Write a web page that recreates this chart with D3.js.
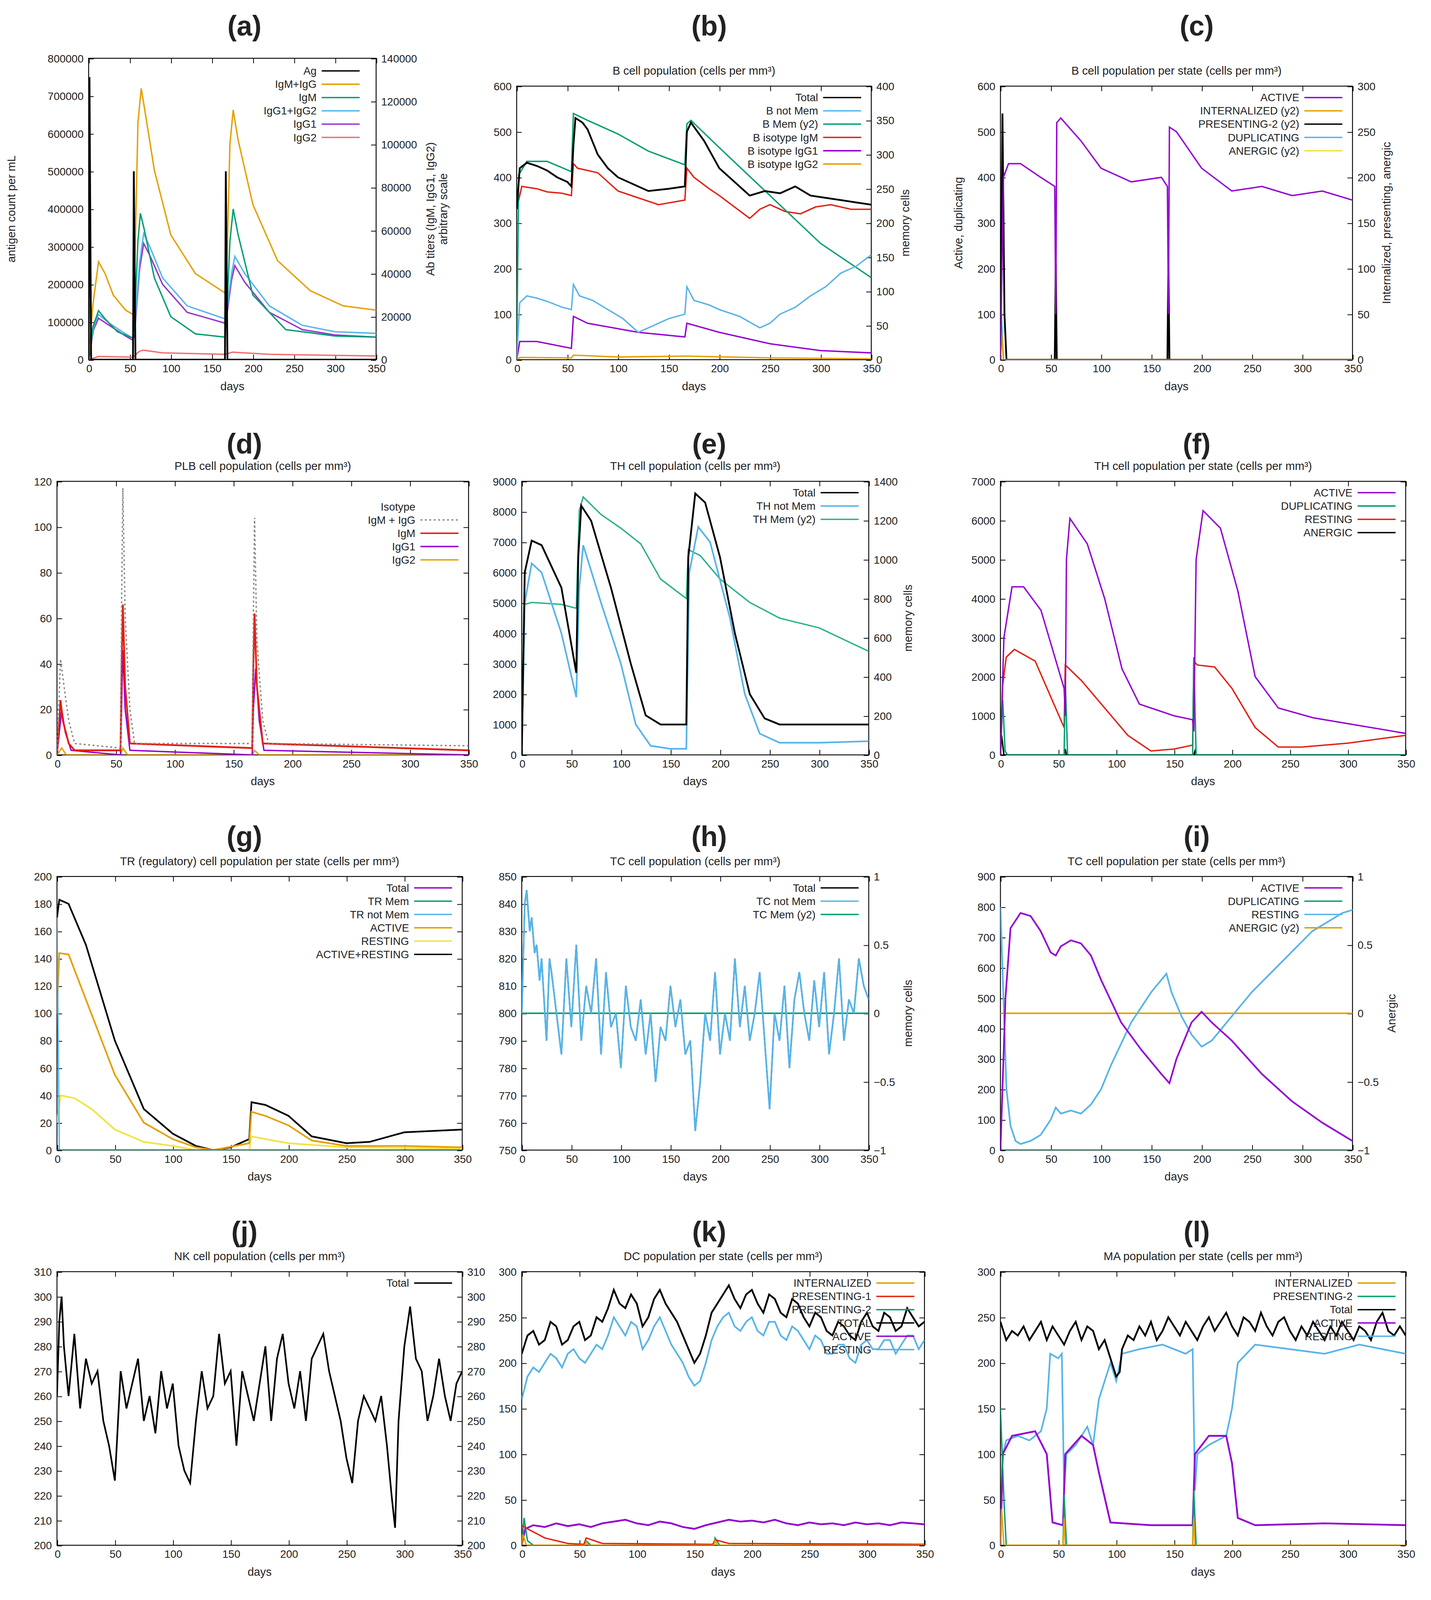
<!DOCTYPE html>
<html><head><meta charset="utf-8">
<script src="https://cdn.jsdelivr.net/npm/d3@7"></script>
<style>body{margin:0;background:#fff}text{font-family:"Liberation Sans",Arial,sans-serif;fill:#222}</style>
</head><body><svg id="c" width="3664" height="5111"></svg>
<script>
const C={pu:"#9400d3",gr:"#009e73",cy:"#56b4e9",or:"#e69f00",ye:"#f0e442",bl:"#0072b2",re:"#e51e10",bk:"#000",gy:"#888",te:"#2ab08a"};
const xTicks=[0,50,100,150,200,250,300,350];
const S=(o)=>Object.entries(o).map(([k,v])=>[+k,v]);
// ---- data ----
const aAg=[[0,0],[1,750000],[3,0],[54,0],[55,500000],[57,0],[166,0],[167,500000],[169,0],[350,0]];
const aIgMG=[[0,0],[5,25000],[12,45500],[20,40000],[30,30000],[45,23000],[54,21000],[56,40000],[60,110000],[64,126000],[70,112000],[80,88000],[100,58000],[130,40000],[166,31000],[168,40000],[172,100000],[176,116000],[182,102000],[200,72000],[230,46000],[270,32000],[310,25000],[350,23000]];
const aIgM=[[0,0],[5,15000],[12,22750],[20,19000],[35,13000],[54,10000],[56,20000],[60,55000],[63,68000],[68,60000],[80,38000],[100,20000],[130,12000],[166,10500],[168,20000],[172,55000],[176,70000],[182,58000],[200,30000],[240,14000],[300,11000],[350,10500]];
const aIgG12=[[0,0],[6,15000],[12,21000],[25,17000],[45,12000],[54,10000],[56,15000],[62,45000],[67,58600],[75,52000],[90,38000],[120,25000],[166,19000],[168,22000],[174,40000],[178,48000],[190,40000],[220,25000],[260,16000],[300,13000],[350,12250]];
const aIgG1=[[0,0],[6,14000],[12,19250],[25,16000],[45,11000],[54,9000],[56,13000],[62,42000],[67,54000],[75,48000],[90,35000],[120,22000],[166,17000],[168,20000],[174,37000],[178,43750],[190,36000],[220,22000],[260,14000],[300,11500],[350,10500]];
const aIgG2=[[0,0],[12,1500],[54,1200],[62,4000],[67,4400],[90,3200],[166,2500],[175,3500],[220,2500],[350,1750]];
const bTot=[[0,330],[3,420],[10,432],[20,425],[30,415],[40,400],[50,390],[54,380],[56,470],[58,530],[65,520],[70,505],[80,450],[90,420],[100,400],[115,385],[130,370],[150,375],[166,380],[168,500],[172,520],[185,480],[200,420],[215,390],[230,360],[245,370],[260,365],[275,380],[290,360],[305,355],[320,350],[335,345],[350,340]];
const bNot=[[0,0],[3,125],[10,140],[20,135],[30,128],[45,115],[54,110],[56,165],[62,140],[75,130],[90,110],[105,90],[120,60],[135,75],[150,90],[166,100],[168,160],[175,130],[190,120],[200,110],[220,95],[240,70],[250,80],[260,100],[275,115],[290,140],[305,160],[320,190],[335,205],[350,230]];
const bMem=[[0,0],[2,270],[10,290],[30,290],[54,275],[56,360],[70,350],[100,330],[130,305],[166,285],[168,345],[172,350],[200,310],[250,240],[300,170],[350,120]];
const bIgM=[[0,330],[5,380],[20,375],[30,368],[45,365],[54,360],[56,430],[60,420],[80,410],[100,370],[120,355],[140,340],[166,350],[168,420],[175,400],[190,375],[200,360],[215,335],[230,310],[240,330],[250,340],[265,325],[280,320],[295,335],[310,340],[330,330],[350,330]];
const bIgG1=[[0,0],[3,40],[20,40],[54,25],[56,95],[70,80],[120,60],[166,50],[168,80],[200,60],[250,35],[300,20],[350,15]];
const bIgG2=[[0,0],[3,5],[54,4],[56,10],[100,6],[168,8],[250,4],[350,2]];
const cAct=[[0,0],[3,400],[8,430],[20,430],[40,400],[54,380],[55,100],[56,520],[60,530],[80,480],[100,420],[130,390],[160,400],[166,380],[167,100],[168,510],[175,500],[200,420],[230,370],[260,380],[290,360],[320,370],[350,350]];
const cPres=[[0,0],[2,270],[4,50],[6,0],[54,0],[55,105],[56,0],[166,0],[167,110],[168,0],[350,0]];
const cDup=[[0,0],[1,100],[3,0],[54,0],[55,80],[56,0],[166,0],[167,80],[168,0],[350,0]];
const cInt=[[0,0],[1,30],[3,0],[350,0]];
const cAne=[[0,0],[54,0],[55,25],[56,0],[166,0],[167,20],[168,0],[350,0]];
const dIgMG=[[0,0],[3,42],[6,30],[10,15],[15,5],[54,3],[55,70],[56,117],[58,60],[62,20],[66,5],[166,5],[167,60],[168,104],[170,50],[175,15],[180,5],[350,4]];
const dIgM=[[0,0],[3,24],[5,15],[10,5],[15,2],[54,2],[55,40],[56,66],[58,30],[62,5],[166,3],[167,40],[168,62],[170,30],[175,5],[350,2]];
const dIgG1=[[0,0],[4,20],[7,10],[12,2],[54,0],[56,46],[58,20],[62,2],[166,0],[167,20],[169,38],[172,15],[176,2],[350,0]];
const dIgG2=[[0,0],[4,3],[8,0],[54,0],[56,3],[60,0],[166,0],[168,2],[172,0],[350,0]];
const eTot=[[0,0],[3,6000],[10,7050],[20,6900],[40,5500],[55,2700],[57,6500],[60,8200],[70,7700],[90,5500],[110,3000],[125,1300],[140,1000],[166,1000],[168,6500],[175,8600],[185,8300],[200,6500],[215,4000],[230,2000],[245,1200],[260,1000],[300,1000],[350,1000]];
const eNot=[[0,0],[3,5000],[10,6300],[20,6000],[40,4000],[55,1900],[58,5500],[62,6900],[80,5000],[100,3000],[115,1000],[130,300],[150,200],[166,200],[169,6000],[178,7500],[190,7000],[210,4500],[225,2000],[240,700],[260,400],[300,400],[350,450]];
const eMem=[[0,0],[3,770],[10,780],[40,770],[55,750],[58,1250],[62,1320],[80,1230],[100,1160],[120,1080],[140,900],[166,800],[168,1050],[180,1020],[200,900],[230,780],[260,700],[300,650],[350,530]];
const fAct=[[0,0],[3,3000],[10,4300],[20,4300],[35,3700],[55,1700],[56,1000],[57,5000],[60,6050],[75,5400],[90,4000],[105,2200],[120,1300],[150,1000],[166,900],[167,600],[169,5000],[175,6250],[190,5800],[205,4200],[220,2000],[240,1200],[270,950],[300,800],[350,550]];
const fRes=[[0,0],[2,1800],[5,2500],[12,2700],[30,2400],[55,700],[56,2300],[70,1900],[90,1200],[110,500],[130,100],[150,150],[166,250],[167,2400],[170,2300],[185,2250],[200,1700],[220,700],[240,200],[260,200],[300,300],[350,500]];
const fDup=[[0,0],[2,1400],[4,100],[6,0],[55,0],[56,1900],[58,0],[166,0],[167,2500],[169,0],[350,0]];
const fAne=[[0,0],[1,500],[3,0],[55,0],[56,150],[57,0],[167,0],[168,100],[169,0],[350,0]];
const gAR=[[0,170],[2,183],[10,180],[25,150],[50,80],[75,30],[100,12],[120,3],[135,0],[150,2],[166,8],[168,35],[180,33],[200,25],[220,10],[250,5],[270,6],[300,13],[350,15]];
const gAct=[[0,100],[2,144],[10,143],[25,110],[50,55],[75,20],[100,8],[120,2],[135,0],[166,5],[168,28],[180,25],[200,18],[220,7],[250,3],[300,3],[350,2]];
const gRes=[[0,20],[3,40],[15,38],[30,30],[50,15],[75,6],[100,3],[120,0],[166,0],[168,10],[180,8],[200,5],[250,2],[350,1]];
const gNot=[[0,170],[2,0],[350,0]];
const hNot=S({0:800,3:840,5:845,8:830,10:835,13:822,15:825,18:812,20:820,25:790,28:820,30:815,35:800,40:785,45:820,50:795,55:825,60:790,65:810,70:800,75:820,80:785,85:815,90:795,95:800,100:780,105:810,110:795,115:790,120:805,125:785,130:800,135:775,140:795,145:790,150:810,155:795,160:805,165:785,170:790,175:757,180:775,185:800,190:790,195:815,200:785,205:800,210:790,215:820,220:795,225:810,230:790,235:800,240:815,245:790,250:765,255:800,260:790,265:810,270:780,275:805,280:815,285:800,290:790,295:812,300:795,305:815,310:785,315:800,320:820,325:790,330:805,335:800,340:820,345:810,350:805});
const hMem=[[0,0],[350,0]];
const iAct=[[0,0],[5,500],[10,730],[20,780],[30,770],[40,720],[50,650],[55,640],[60,670],[70,690],[80,680],[90,640],[100,560],[120,420],[140,330],[160,250],[168,220],[175,300],[190,420],[200,455],[210,420],[230,360],[260,250],[290,160],[320,90],[350,30]];
const iRes=[[0,800],[3,500],[6,200],[10,80],[15,30],[20,20],[30,30],[40,50],[50,100],[55,140],[60,120],[70,130],[80,120],[90,150],[100,200],[110,280],[130,420],[150,520],[165,580],[170,520],[180,440],[190,380],[200,340],[210,360],[220,400],[250,520],[280,620],[310,720],[340,780],[350,790]];
const iAne=[[0,0],[350,0]];
const jTot=S({0:260,2:290,4:300,6:280,10:260,15:285,20:255,25:275,30:265,35:270,40:250,45:240,50:226,55:270,60:255,65:265,70:275,75:250,80:260,85:245,90:270,95:255,100:265,105:240,110:230,115:225,120:250,125:270,130:255,135:260,140:285,145:265,150:270,155:240,160:270,165:260,170:250,175:265,180:280,185:250,190:275,195:285,200:265,205:255,210:270,215:250,220:275,225:280,230:285,235:270,240:260,245:250,250:235,255:225,260:250,265:260,270:255,275:250,280:260,285:240,289:220,292:207,295:250,300:280,305:296,310:275,315:270,320:250,325:260,330:275,335:260,340:250,345:265,350:270});
const kTot=S({0:210,5:230,10:235,15:220,20:225,25:245,30:240,35:220,40:225,45:240,50:245,55:225,60:230,65:250,70:245,75:260,80:280,85:265,90:260,95:275,100:265,105:240,110:250,115:270,120:280,125:265,130:255,135:245,140:230,145:215,150:200,155:210,160:230,165:255,170:265,175:275,180:285,185:270,190:260,195:275,200:280,205:265,210:255,215:275,220:270,225:255,230:250,235:270,240:265,245:250,250:240,255:255,260:250,265:235,270:230,275:245,280:240,285:230,290:225,295:245,300:255,305:240,310:235,315:255,320:250,325:235,330:240,335:260,340:250,345:240,350:245});
const kRes=S({0:160,5:185,10:195,15:190,20:200,25:210,30:205,35:195,40:210,45:215,50:205,55:200,60:210,65:220,70:215,75:230,80:250,85:240,90:230,95:245,100:240,105:215,110:225,115:240,120:250,125:235,130:220,135:210,140:200,145:185,150:175,155:180,160:200,165:225,170:240,175:250,180:255,185:240,190:235,195:245,200:250,205:235,210:230,215:245,220:245,225:230,230:225,235:240,240:235,245:225,250:215,255:230,260:225,265:210,270:210,275:220,280:220,285:205,290:200,295:220,300:225,305:215,310:215,315:225,320:225,325:210,330:220,335:230,340:230,345:215,350:225});
const kAct=S({0:0,3:18,10:22,20:20,30:24,40:21,50:23,60:20,70:24,80:26,90:28,100:24,110:22,120:26,130:24,140:20,150:18,160:22,170:25,180:28,190:26,200:27,210:25,220:28,230:24,240:22,250:25,260:23,270:24,280:22,290:25,300:23,310:24,320:22,330:25,340:24,350:23});
const kP1=[[0,22],[5,18],[20,8],[40,2],[54,1],[56,8],[70,2],[166,1],[168,6],[180,2],[350,1]];
const kP2=[[0,0],[2,30],[5,5],[10,0],[55,0],[56,5],[60,0],[167,0],[168,8],[172,0],[350,0]];
const kInt=[[0,0],[1,12],[4,0],[55,0],[56,4],[58,0],[167,0],[168,5],[170,0],[350,0]];
const lTot=S({0:245,5:225,10:235,15:230,20:240,25:225,30:235,35:245,40:225,45:240,50:230,55:220,60:235,65:245,70:225,75:240,80:235,85:215,90:225,95:205,100:185,103:190,105:215,110:230,115:225,120:240,125:230,130:245,135:225,140:235,145:250,150:240,155:230,160:245,165:235,170:225,175:240,180:250,185:235,190:245,195:255,200:240,205:230,210:250,215:245,220:235,225:255,230:240,235:230,240:245,245:250,250:235,255:225,260:240,265:230,270:245,275:235,280:225,285:240,290:230,295:245,300:235,305:225,310:240,315:235,320:225,325:245,330:255,335:235,340:230,345:240,350:230});
const lRes=[[0,0],[2,100],[5,115],[15,120],[25,115],[35,125],[40,150],[43,210],[50,205],[53,210],[55,60],[57,100],[65,110],[75,130],[80,110],[85,160],[95,200],[100,180],[105,210],[120,215],[140,220],[160,210],[166,215],[168,60],[170,100],[180,110],[195,120],[200,150],[205,200],[220,220],[250,215],[280,210],[310,220],[350,210]];
const lAct=[[0,0],[2,100],[10,120],[30,125],[40,100],[45,25],[54,22],[56,100],[70,120],[80,110],[85,80],[95,25],[130,22],[166,22],[168,100],[180,120],[195,120],[200,90],[205,30],[220,22],[280,24],[350,22]];
const lP2=[[0,150],[3,50],[5,0],[54,0],[55,55],[57,0],[166,0],[167,60],[169,0],[350,0]];
const lInt=[[0,0],[1,40],[3,0],[54,0],[55,30],[56,0],[166,0],[167,30],[168,0],[350,0]];
const mAct=S({0:460,5:450,10:470,15:455,20:465,25:460,30:470,35:465,40:475,45:460,50:470,55:475,60:465,65:480,70:475,75:470,80:480,85:485,90:470,95:465,100:490,105:475,110:465,115:470,120:460,125:475,130:465,135:455,140:470,145:460,150:445,155:440,160:430,165:445,170:455,175:460,180:470,185:490,190:500,195:490,200:480,205:475,210:470,215:460,220:470,225:465,230:455,235:470,240:460,245:465,250:470,255:455,260:465,265:475,270:460,275:470,280:465,285:475,290:480,295:460,300:470,305:465,310:475,315:460,320:470,325:465,330:455,335:470,340:460,345:475,350:470});
const mZero=[[0,0],[350,0]];
const nIFNg=[[0,0],[3,300000],[6,343000],[10,330000],[15,250000],[20,120000],[25,40000],[30,8000],[40,0],[55,0],[58,100000],[62,250000],[66,313000],[70,300000],[75,200000],[80,80000],[85,20000],[95,0],[166,0],[170,60000],[175,95000],[180,90000],[185,60000],[195,15000],[210,0],[350,0]];
const nTGF=[[0,0],[3,310000],[5,320000],[8,200000],[12,80000],[18,10000],[25,0],[55,0],[57,60000],[59,70000],[63,20000],[70,0],[167,0],[169,15000],[175,0],[350,0]];
const nTNF=[[0,0],[3,80000],[6,60000],[12,10000],[20,0],[55,0],[57,40000],[62,5000],[68,0],[167,0],[169,20000],[175,0],[350,0]];
const nIL12=[[0,0],[4,45000],[10,10000],[18,0],[55,0],[58,30000],[64,5000],[70,0],[167,0],[170,32000],[176,10000],[182,0],[350,0]];
const nIL10=[[0,0],[4,20000],[10,3000],[18,0],[56,0],[58,10000],[64,0],[168,0],[171,12000],[178,0],[350,0]];
const nIL2=[[0,0],[3,560000],[7,100000],[12,0],[55,0],[57,560000],[61,100000],[66,0],[166,0],[168,520000],[172,100000],[177,0],[350,0]];
const nD=[[0,0],[20,0],[28,200000],[33,470000],[40,480000],[45,460000],[48,100000],[52,0],[350,0]];
const z=[[0,0],[350,0]];
// ---- drawing ----
const svg=d3.select("#c");
const root=svg.append("g").attr("transform","scale(3.2425)");
let cid=0;
function panel(p){
  const g=root.append("g");
  const x=d3.scaleLinear().domain(p.xd||[0,350]).range([p.x0,p.x1]);
  const y=d3.scaleLinear().domain(p.yd).range([p.y1,p.y0]);
  const y2=p.y2d?d3.scaleLinear().domain(p.y2d).range([p.y1,p.y0]):null;
  const fs=p.fs||8.5;
  g.append("rect").attr("x",p.x0).attr("y",p.y0).attr("width",p.x1-p.x0).attr("height",p.y1-p.y0).attr("fill","none").attr("stroke","#000").attr("stroke-width",0.7);
  const ax=(sel)=>{sel.select(".domain").remove();sel.selectAll("text").style("font-size",fs+"px").style("font-family","Liberation Sans, Arial");sel.selectAll("line").attr("stroke-width",0.6);};
  g.append("g").attr("transform",`translate(0,${p.y1})`).call(d3.axisBottom(x).tickValues(p.xt||xTicks).tickSize(-4).tickPadding(4).tickFormat(d3.format("d"))).call(ax);
  g.append("g").attr("transform",`translate(0,${p.y0})`).call(d3.axisTop(x).tickValues(p.xt||xTicks).tickSize(-4).tickFormat("")).call(ax);
  g.append("g").attr("transform",`translate(${p.x0},0)`).call(d3.axisLeft(y).tickValues(p.yt).tickSize(-4).tickPadding(4).tickFormat(d3.format("d"))).call(ax);
  if(y2) g.append("g").attr("transform",`translate(${p.x1},0)`).call(d3.axisRight(y2).tickValues(p.y2t).tickSize(-4).tickPadding(4).tickFormat(p.y2f||d3.format("d"))).call(ax);
  else g.append("g").attr("transform",`translate(${p.x1},0)`).call(d3.axisRight(y).tickValues(p.yt).tickSize(-4).tickFormat("")).call(ax);
  if(!p.noDays) g.append("text").attr("x",(p.x0+p.x1)/2).attr("y",p.y1+24).attr("text-anchor","middle").style("font-size","9px").text("days");
  if(p.title) g.append("text").attr("x",(p.x0+p.x1)/2).attr("y",p.y0-9).attr("text-anchor","middle").style("font-size","9px").text(p.title);
  if(p.yl) g.append("text").attr("transform",`translate(${p.x0-(p.ylo||30)},${(p.y0+p.y1)/2}) rotate(-90)`).attr("text-anchor","middle").style("font-size","9px").text(p.yl);
  if(p.y2l) p.y2l.forEach((t,i)=>g.append("text").attr("transform",`translate(${p.x1+(p.y2lo||38)+i*10},${(p.y0+p.y1)/2}) rotate(-90)`).attr("text-anchor","middle").style("font-size","9px").text(t));
  const id="cl"+(cid++);
  g.append("clipPath").attr("id",id).append("rect").attr("x",p.x0).attr("y",p.y0).attr("width",p.x1-p.x0).attr("height",p.y1-p.y0);
  const pg=g.append("g").attr("clip-path",`url(#${id})`);
  const order=p.s.slice().reverse().sort((a,b)=>(b.under?1:0)-(a.under?1:0));
  order.forEach(s=>{
    if(!s.d) return;
    const ys=s.y2?y2:y;
    pg.append("path").datum(s.d).attr("d",d3.line().x(d=>x(d[0])).y(d=>ys(d[1]))).attr("fill","none").attr("stroke",s.c).attr("stroke-width",s.w||1.1).attr("stroke-dasharray",s.dash||null);
  });
  const lx=p.lx||p.x1-42, ly=p.ly||p.y0+9;
  p.s.forEach((s,i)=>{
    const yy=ly+i*10.5;
    g.append("text").attr("x",lx).attr("y",yy+3).attr("text-anchor","end").style("font-size","8.5px").text(s.n);
    if(s.c) g.append("line").attr("x1",lx+4).attr("x2",lx+34).attr("y1",yy).attr("y2",yy).attr("stroke",s.c).attr("stroke-width",1.1).attr("stroke-dasharray",s.dash||null);
  });
}
function letter(t,x,yy){root.append("text").attr("x",x).attr("y",yy).attr("text-anchor","middle").style("font-size","22px").style("font-weight","bold").text(t);}
const r1=[68,284],r2=[380,596],r3=[692,908],r4=[1004,1220],r5=[1311,1528];
const mm=" (cells per mm³)";
const gfmt=d3.format("~g");
panel({x0:70,x1:297,y0:46,y1:284,yd:[0,800000],yt:d3.range(0,800001,100000),y2d:[0,140000],y2t:d3.range(0,140001,20000),yl:"antigen count per mL",ylo:58,y2l:["Ab titers (IgM, IgG1, IgG2)","arbitrary scale"],y2lo:46,lx:250,ly:56,
 s:[{n:"Ag",c:C.bk,d:aAg,w:1.4},{n:"IgM+IgG",c:C.or,d:aIgMG,y2:1},{n:"IgM",c:C.gr,d:aIgM,y2:1},{n:"IgG1+IgG2",c:C.cy,d:aIgG12,y2:1},{n:"IgG1",c:"#9933cc",d:aIgG1,y2:1},{n:"IgG2",c:"#f07070",d:aIgG2,y2:1}]});
panel({x0:408,x1:688,y0:r1[0],y1:r1[1],yd:[0,600],yt:d3.range(0,601,100),y2d:[0,400],y2t:d3.range(0,401,50),title:"B cell population"+mm,y2l:["memory cells"],y2lo:30,
 s:[{n:"Total",c:C.bk,d:bTot,w:1.4},{n:"B not Mem",c:C.cy,d:bNot},{n:"B Mem (y2)",c:C.gr,d:bMem,y2:1},{n:"B isotype IgM",c:C.re,d:bIgM},{n:"B isotype IgG1",c:C.pu,d:bIgG1},{n:"B isotype IgG2",c:C.or,d:bIgG2}]});
panel({x0:790,x1:1068,y0:r1[0],y1:r1[1],yd:[0,600],yt:d3.range(0,601,100),y2d:[0,300],y2t:d3.range(0,301,50),title:"B cell population  per state"+mm,yl:"Active, duplicating",y2l:["Internalized, presenting, anergic"],y2lo:30,
 s:[{n:"ACTIVE",c:C.pu,d:cAct},{n:"INTERNALIZED (y2)",c:C.or,d:cInt,y2:1},{n:"PRESENTING-2 (y2)",c:C.bk,d:cPres,y2:1,w:1.4},{n:"DUPLICATING",c:C.cy,d:cDup},{n:"ANERGIC (y2)",c:C.ye,d:cAne,y2:1}]});
panel({x0:45,x1:370,y0:r2[0],y1:r2[1],yd:[0,120],yt:d3.range(0,121,20),title:"PLB cell population"+mm,ly:r2[0]+20,
 s:[{n:"Isotype",c:null,d:null},{n:"IgM + IgG",c:C.gy,d:dIgMG,dash:"1.5,2"},{n:"IgM",c:C.re,d:dIgM,w:1.4},{n:"IgG1",c:C.pu,d:dIgG1},{n:"IgG2",c:C.or,d:dIgG2}]});
panel({x0:412,x1:686,y0:r2[0],y1:r2[1],yd:[0,9000],yt:d3.range(0,9001,1000),y2d:[0,1400],y2t:d3.range(0,1401,200),title:"TH cell population"+mm,y2l:["memory cells"],y2lo:34,
 s:[{n:"Total",c:C.bk,d:eTot,w:1.4},{n:"TH not Mem",c:C.cy,d:eNot,w:1.3},{n:"TH Mem (y2)",c:C.te,d:eMem,y2:1}]});
panel({x0:790,x1:1110,y0:r2[0],y1:r2[1],yd:[0,7000],yt:d3.range(0,7001,1000),title:"TH cell population per state"+mm,
 s:[{n:"ACTIVE",c:C.pu,d:fAct},{n:"DUPLICATING",c:C.gr,d:fDup},{n:"RESTING",c:C.re,d:fRes},{n:"ANERGIC",c:C.bk,d:fAne}]});
panel({x0:45,x1:365,y0:r3[0],y1:r3[1],yd:[0,200],yt:d3.range(0,201,20),title:"TR (regulatory) cell population per state"+mm,
 s:[{n:"Total",c:C.pu,d:gAR,under:1},{n:"TR Mem",c:C.gr,d:z},{n:"TR not Mem",c:C.cy,d:gNot},{n:"ACTIVE",c:C.or,d:gAct,w:1.3},{n:"RESTING",c:C.ye,d:gRes,w:1.3},{n:"ACTIVE+RESTING",c:C.bk,d:gAR,w:1.3}]});
panel({x0:412,x1:686,y0:r3[0],y1:r3[1],yd:[750,850],yt:d3.range(750,851,10),y2d:[-1,1],y2t:[-1,-0.5,0,0.5,1],y2f:gfmt,title:"TC cell population"+mm,y2l:["memory cells"],y2lo:34,
 s:[{n:"Total",c:C.bk,d:hNot,under:1},{n:"TC not Mem",c:C.cy,d:hNot,w:1.3},{n:"TC Mem (y2)",c:C.gr,d:hMem,y2:1,w:1.3}]});
panel({x0:790,x1:1068,y0:r3[0],y1:r3[1],yd:[0,900],yt:d3.range(0,901,100),y2d:[-1,1],y2t:[-1,-0.5,0,0.5,1],y2f:gfmt,title:"TC cell population per state"+mm,y2l:["Anergic"],y2lo:34,
 s:[{n:"ACTIVE",c:C.pu,d:iAct,w:1.3},{n:"DUPLICATING",c:C.gr,d:z},{n:"RESTING",c:C.cy,d:iRes,w:1.3},{n:"ANERGIC (y2)",c:C.or,d:iAne,y2:1,w:1.3}]});
panel({x0:45,x1:365,y0:r4[0],y1:r4[1],yd:[200,310],yt:d3.range(200,311,10),y2d:[200,310],y2t:d3.range(200,311,10),title:"NK cell population"+mm,
 s:[{n:"Total",c:C.bk,d:jTot,w:1.3}]});
panel({x0:412,x1:730,y0:r4[0],y1:r4[1],yd:[0,300],yt:d3.range(0,301,50),title:"DC population per state"+mm,
 s:[{n:"INTERNALIZED",c:C.or,d:kInt},{n:"PRESENTING-1",c:C.re,d:kP1},{n:"PRESENTING-2",c:C.gr,d:kP2},{n:"TOTAL",c:C.bk,d:kTot,w:1.4},{n:"ACTIVE",c:C.pu,d:kAct,w:1.4},{n:"RESTING",c:C.cy,d:kRes,w:1.3}]});
panel({x0:790,x1:1110,y0:r4[0],y1:r4[1],yd:[0,300],yt:d3.range(0,301,50),title:"MA population per state"+mm,
 s:[{n:"INTERNALIZED",c:C.or,d:lInt},{n:"PRESENTING-2",c:C.gr,d:lP2},{n:"Total",c:C.bk,d:lTot,w:1.4},{n:"ACTIVE",c:C.pu,d:lAct,w:1.4},{n:"RESTING",c:C.cy,d:lRes,w:1.3}]});
panel({x0:45,x1:365,y0:r5[0],y1:r5[1],yd:[0,600],yt:d3.range(0,601,100),title:"EP population per state"+mm,
 s:[{n:"Total",c:C.bk,d:mAct,under:1},{n:"ACTIVE",c:C.pu,d:mAct,w:1.4},{n:"ACTIVELY INFECTED",c:C.gr,d:mZero},{n:"PRESENTING-2",c:C.re,d:mZero}]});
panel({x0:412,x1:735,y0:1290,y1:r5[1],yd:[0,350000],yt:d3.range(0,350001,50000),yl:"ng/mL",ylo:40,lx:470,ly:1298,
 s:[{n:"IFN-g",c:C.pu,d:nIFNg,w:1.4},{n:"IL-4",c:C.gr,d:z},{n:"IL-12",c:C.cy,d:nIL12},{n:"TGF-b",c:C.or,d:nTGF,w:1.3},{n:"TNF-a",c:C.re,d:nTNF},{n:"IL-10",c:"#444",d:nIL10},{n:"IL-6",c:C.pu,d:z},{n:"IFN-b",c:C.gr,d:z},{n:"IL-18",c:C.cy,d:z},{n:"IL-23",c:C.or,d:z}]});
root.append("rect").attr("x",560).attr("y",1298).attr("width",172).attr("height",140).attr("fill","#fff");
panel({x0:572,x1:728,y0:1303,y1:1427,yd:[0,600000],yt:d3.range(0,600001,100000),noDays:1,lx:604,ly:1313,
 s:[{n:"D",c:C.cy,d:nD,w:1.3},{n:"IL-2",c:C.or,d:nIL2,w:1.3}]});
letter("(a)",193,28);letter("(b)",560,28);letter("(c)",945,28);
letter("(d)",193,358);letter("(e)",560,358);letter("(f)",945,358);
letter("(g)",193,668);letter("(h)",560,668);letter("(i)",945,668);
letter("(j)",193,980);letter("(k)",560,980);letter("(l)",945,980);
letter("(m)",193,1282);letter("(n)",560,1282);
</script></body></html>
